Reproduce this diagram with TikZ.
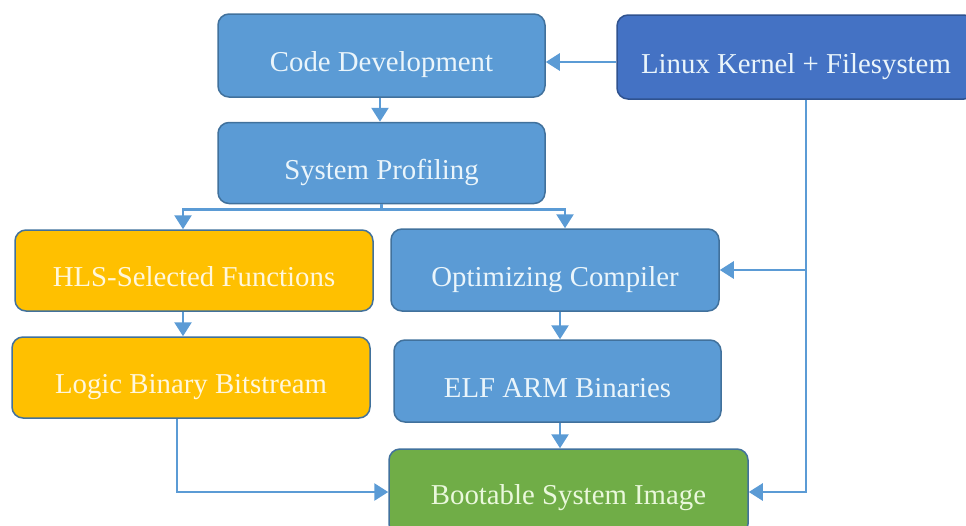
\documentclass[tikz,border=0pt]{standalone}
\usepackage{fontspec}
\setmainfont{Liberation Serif}
\usetikzlibrary{arrows.meta,calc}
\definecolor{boxblue}{HTML}{5B9BD5}
\definecolor{darkblue}{HTML}{4472C4}
\definecolor{edgeblue}{HTML}{41719C}
\definecolor{edgedark}{HTML}{2F528F}
\definecolor{boxgold}{HTML}{FFC000}
\definecolor{boxgreen}{HTML}{70AD47}
\definecolor{wire}{HTML}{5B9BD5}
\definecolor{inkblue}{HTML}{EAF5FB}
\definecolor{inkgold}{HTML}{FFF7DC}
\definecolor{inkgreen}{HTML}{EAF8DC}
\tikzset{
  block/.style={draw=edgeblue, line width=1.5pt, rounded corners=11pt,
    text=inkblue, font=\fontsize{28.8}{32}\selectfont, inner sep=0pt,
    text height=32pt, text depth=0pt},
  blueblock/.style={block, fill=boxblue},
  kernelblock/.style={block, fill=darkblue, draw=edgedark},
  goldblock/.style={block, fill=boxgold, text=inkgold},
  greenblock/.style={block, fill=boxgreen, text=inkgreen},
  arr/.style={draw=wire, line width=2.6pt,
    -{Triangle[width=17pt,length=14pt]}},
  wireline/.style={draw=wire, line width=2.6pt}
}
\begin{document}
\begin{tikzpicture}[x=1pt,y=-1pt]
  \useasboundingbox (0,0) rectangle (966,525);
  \begin{scope}
  \clip (0,0) rectangle (966,525);

  % boxes
  \node[blueblock, minimum width=327pt, minimum height=83pt] (code) at (381.5,55.5) {Code Development};
  \node[blueblock, minimum width=327pt, minimum height=81pt] (prof) at (381.5,163) {System Profiling};
  \node[kernelblock, minimum width=358pt, minimum height=84pt] (linux) at (796,57) {Linux Kernel + Filesystem};
  \node[goldblock, minimum width=358pt, minimum height=81pt] (hls) at (194,270.5) {HLS-Selected Functions};
  \node[goldblock, minimum width=358pt, minimum height=81pt] (logic) at (191,377.5) {Logic Binary Bitstream};
  \node[blueblock, minimum width=328pt, minimum height=82pt] (opt) at (555,270) {Optimizing Compiler};
  \node[blueblock, minimum width=327pt, minimum height=82pt] (elf) at (557.5,381) {ELF ARM Binaries};
  \node[greenblock, minimum width=359pt, minimum height=86pt, text height=24pt] (boot) at (568.5,492) {Bootable System Image};

  % main flow
  \draw[arr] (linux.west |- 0,62) -- (code.east |- 0,62);
  \draw[arr] ([xshift=-1.5pt]code.south) -- ([xshift=-1.5pt]code.south |- prof.north);

  % split below profiling
  \coordinate (split) at ($(prof.south)+(0,5.5)$);
  \draw[wireline] (prof.south) -- (split);
  \draw[arr] (split) -| ([xshift=-11pt]hls.north);
  \draw[arr] (split) -| ([xshift=10pt]opt.north);

  % hardware branch
  \draw[arr] ([xshift=-11pt]hls.south) -- ([xshift=-8pt]logic.north);
  \draw[arr] ([xshift=-14pt]logic.south) |- (boot.west);

  % software branch
  \draw[arr] ([xshift=5pt]opt.south) -- ([xshift=5pt]opt.south |- elf.north);
  \draw[arr] ([xshift=2.5pt]elf.south) -- ([xshift=2.5pt]elf.south |- boot.north);

  % kernel bus
  \coordinate (bus) at ([xshift=10pt]linux.south);
  \draw[arr] (bus) |- (boot.east);
  \draw[arr] (opt.east -| bus) -- (opt.east);
  \end{scope}
\end{tikzpicture}
\end{document}
